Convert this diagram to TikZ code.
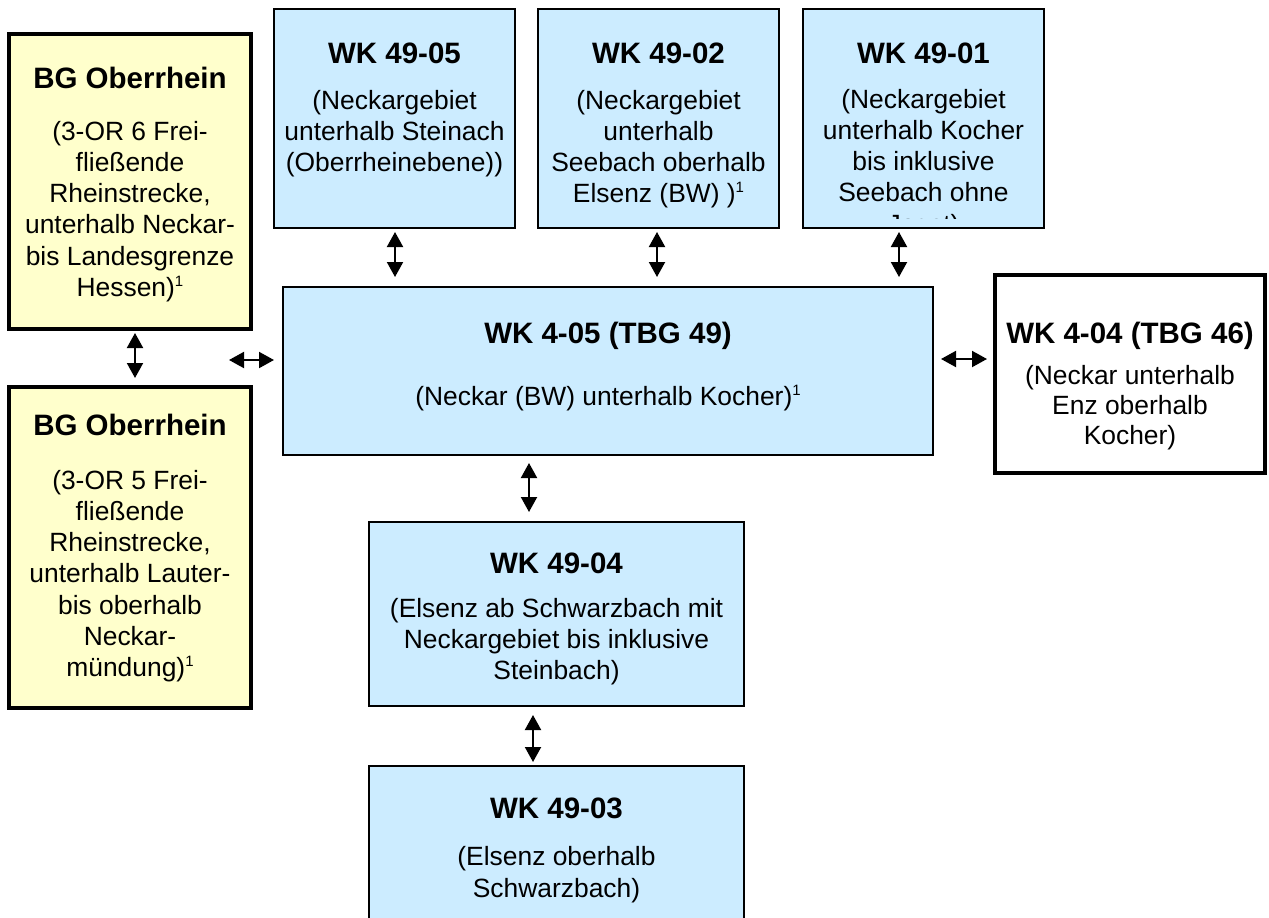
\documentclass[tikz,border=0pt]{standalone}
\usepackage{fontspec}
\setmainfont{Liberation Sans}
\usetikzlibrary{arrows.meta}
\definecolor{boxblue}{HTML}{CCECFF}
\definecolor{boxyellow}{HTML}{FFFFCC}
\newcommand{\fnmark}{\raisebox{10pt}{\fontsize{15}{15}\selectfont 1}}
\tikzset{
  boxbase/.style={draw=black, rectangle, inner sep=0pt, outer sep=0pt},
  bluebox/.style={boxbase, fill=boxblue, line width=1.5pt},
  yellowbox/.style={boxbase, fill=boxyellow, line width=3.5pt},
  whitebox/.style={boxbase, fill=white, line width=3.5pt},
  head/.style={anchor=base, inner sep=0pt, font=\fontsize{29.5}{34}\selectfont\bfseries},
  body/.style={anchor=north, inner sep=0pt, align=center, font=\fontsize{26.4}{31.2}\selectfont},
  dblarrow/.style={line width=2pt, {Triangle[width=16pt,length=15pt]}-{Triangle[width=16pt,length=15pt]}}
}
\begin{document}
\begin{tikzpicture}[x=1pt,y=-1pt]
\useasboundingbox[fill=white] (0,0) rectangle (1269,918);

% boxes
\node[yellowbox, minimum width=242pt, minimum height=295pt] (bgA) at (130,181.5) {};
\node[yellowbox, minimum width=242pt, minimum height=321pt] (bgB) at (130,547.5) {};
\node[bluebox, minimum width=241pt, minimum height=219pt] (wk4905) at (394.5,118.5) {};
\node[bluebox, minimum width=241pt, minimum height=219pt] (wk4902) at (658.5,118.5) {};
\node[bluebox, minimum width=241pt, minimum height=219pt] (wk4901) at (923.5,118.5) {};
\node[bluebox, minimum width=650pt, minimum height=168pt] (wk405) at (608,371) {};
\node[whitebox, minimum width=270pt, minimum height=198pt] (wk404) at (1130,374) {};
\node[bluebox, minimum width=375pt, minimum height=184pt] (wk4904) at (556.5,614) {};
\node[bluebox, minimum width=375pt, minimum height=170pt] (wk4903) at (556.5,851) {};

% texts
\node[head] (tbgA) at (130,88.5) {BG Oberrhein};
\node[body] (bbgA) at (130,121) {(3-OR 6 Frei-\\fließende\\Rheinstrecke,\\unterhalb Neckar-\\bis Landesgrenze\\Hessen)\fnmark};

\node[head] (tbgB) at (130,435.5) {BG Oberrhein};
\node[body] (bbgB) at (130,470) {(3-OR 5 Frei-\\fließende\\Rheinstrecke,\\unterhalb Lauter-\\bis oberhalb\\Neckar-\\mündung)\fnmark};

\node[head] (t4905) at (394.5,63.5) {WK 49-05};
\node[body] (b4905) at (394.5,90) {(Neckargebiet\\unterhalb Steinach\\(Oberrheinebene))};

\node[head] (t4902) at (658.5,63.5) {WK 49-02};
\node[body] (b4902) at (658.5,90) {(Neckargebiet\\unterhalb\\Seebach oberhalb\\Elsenz (BW) )\fnmark};

\node[head] (t4901) at (923.5,63.5) {WK 49-01};
\begin{scope}
  \clip (804,10) rectangle (1043,218);
  \node[body] (b4901) at (923.5,89) {(Neckargebiet\\unterhalb Kocher\\bis inklusive\\Seebach ohne\\Jagst)};
\end{scope}

\node[head] (t405) at (608,343.5) {WK 4-05 (TBG 49)};
\node[body] (b405) at (608,385) {(Neckar (BW) unterhalb Kocher)\fnmark};

\node[head] (t404) at (1130,343.5) {WK 4-04 (TBG 46)};
\node[body, font=\fontsize{26.4}{30}\selectfont] (b404) at (1130,365) {(Neckar unterhalb\\Enz oberhalb\\Kocher)};

\node[head] (t4904) at (556.5,573.5) {WK 49-04};
\node[body] (b4904) at (556.5,598) {(Elsenz ab Schwarzbach mit\\Neckargebiet bis inklusive\\Steinbach)};

\node[head] (t4903) at (556.5,818.5) {WK 49-03};
\node[body, font=\fontsize{26.4}{32}\selectfont] (b4903) at (556.5,846) {(Elsenz oberhalb\\Schwarzbach)};

% connectors
\coordinate (a1) at ([xshift=0.5pt]wk4905.south);
\draw[dblarrow, shorten <=4pt, shorten >=10pt] (a1) -- (a1 |- wk405.north);
\coordinate (a2) at ([xshift=-1.5pt]wk4902.south);
\draw[dblarrow, shorten <=4pt, shorten >=10pt] (a2) -- (a2 |- wk405.north);
\coordinate (a3) at ([xshift=-24.5pt]wk4901.south);
\draw[dblarrow, shorten <=4pt, shorten >=10pt] (a3) -- (a3 |- wk405.north);
\coordinate (a4) at ([xshift=5pt]bgA.south);
\draw[dblarrow, shorten <=4pt, shorten >=9pt] (a4) -- (a4 |- bgB.north);
\coordinate (lc) at (229,360);
\draw[dblarrow, shorten >=9pt] (lc) -- (lc -| wk405.west);
\coordinate (rc) at ([yshift=12pt]wk405.east);
\draw[dblarrow, shorten <=8pt, shorten >=8pt] (rc) -- (rc -| wk404.west);
\coordinate (a7) at ([xshift=-79pt]wk405.south);
\draw[dblarrow, shorten <=8pt, shorten >=10pt] (a7) -- (a7 |- wk4904.north);
\coordinate (a8) at ([xshift=-23.5pt]wk4904.south);
\draw[dblarrow, shorten <=9pt, shorten >=4pt] (a8) -- (a8 |- wk4903.north);
\end{tikzpicture}
\end{document}
